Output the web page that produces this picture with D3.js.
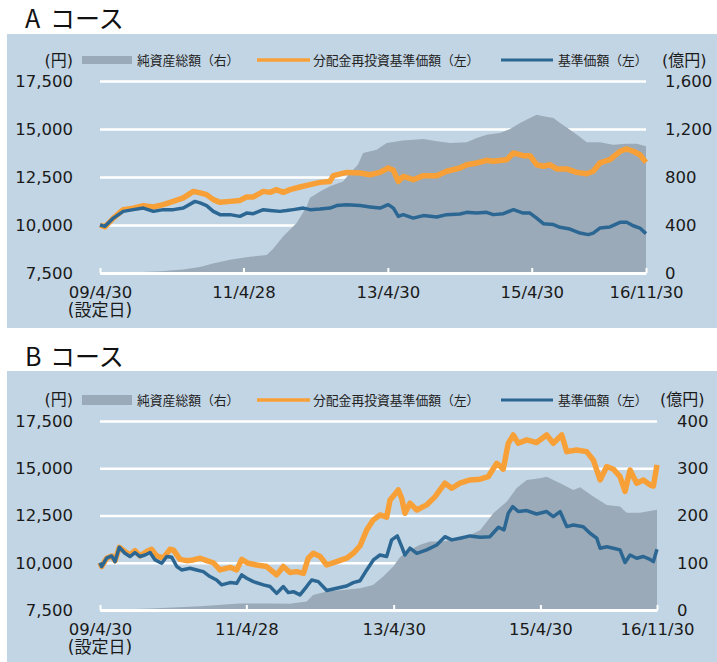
<!DOCTYPE html>
<html>
<head>
<meta charset="utf-8">
<script src="https://cdn.jsdelivr.net/npm/d3@7"></script>
<style>
body { margin: 0; background: #fff; }
</style>
</head>
<body>
<div id="chart"></div>
<script>
// Aコース
var aAssets = [
	["2009-04-30",0],["2009-09-29",5],["2010-03-01",15],["2010-06-25",30],["2010-09-19",50],
	["2010-11-24",80],["2011-02-19",111],["2011-05-31",135],["2011-08-24",150],["2011-09-25",200],
	["2011-11-15",305],["2012-01-23",417],["2012-03-14",555],["2012-03-31",627],["2012-05-21",680],
	["2012-07-10",722],["2012-09-14",763],["2012-10-20",833],["2012-11-29",902],["2012-12-25",1000],
	["2013-03-04",1027],["2013-04-24",1083],["2013-07-16",1105],["2013-10-27",1117],["2014-01-03",1097],
	["2014-03-11",1083],["2014-06-04",1089],["2014-07-25",1125],["2014-09-13",1153],["2014-11-20",1167],
	["2015-01-10",1200],["2015-03-02",1250],["2015-04-21",1292],["2015-05-25",1319],["2015-06-28",1306],
	["2015-08-18",1292],["2015-09-21",1250],["2015-11-10",1194],["2015-12-31",1133],["2016-02-03",1089],
	["2016-04-10",1089],["2016-06-17",1069],["2016-08-24",1078],["2016-10-14",1078],["2016-11-30",1056]
];
var aReinvest = [
	["2009-04-30",10000],["2009-05-25",9900],["2009-07-07",10360],["2009-08-26",10800],["2009-10-16",10880],
	["2009-12-06",11010],["2010-01-26",10940],["2010-03-17",11060],["2010-05-07",11230],["2010-06-27",11410],
	["2010-08-17",11750],["2010-09-20",11670],["2010-10-23",11580],["2010-11-26",11320],["2010-12-30",11180],
	["2011-02-19",11230],["2011-04-10",11280],["2011-05-14",11460],["2011-06-17",11460],["2011-08-07",11750],
	["2011-09-10",11700],["2011-10-14",11840],["2011-11-16",11700],["2011-12-20",11840],["2012-02-09",11980],
	["2012-03-31",12100],["2012-05-21",12220],["2012-07-10",12270],["2012-07-27",12570],["2012-10-03",12740],
	["2012-12-10",12710],["2013-01-29",12620],["2013-03-21",12740],["2013-05-02",12970],["2013-05-28",12850],
	["2013-06-22",12270],["2013-07-17",12530],["2013-09-06",12360],["2013-10-27",12570],["2014-01-03",12570],
	["2014-02-22",12800],["2014-05-01",12970],["2014-06-04",13140],["2014-07-25",13230],["2014-09-13",13370],
	["2014-10-17",13320],["2014-12-24",13400],["2015-01-27",13750],["2015-03-18",13610],["2015-04-21",13610],
	["2015-05-25",13140],["2015-06-28",13060],["2015-08-01",13140],["2015-09-04",12920],["2015-10-24",12920],
	["2015-12-14",12740],["2016-02-03",12670],["2016-03-07",12800],["2016-04-10",13230],["2016-05-31",13400],
	["2016-07-21",13840],["2016-08-24",13960],["2016-09-26",13840],["2016-10-30",13660],["2016-11-30",13260]
];
var aNav = [
	["2009-04-30",10000],["2009-05-25",9930],["2009-07-07",10360],["2009-08-26",10710],["2009-10-16",10800],
	["2009-12-06",10880],["2010-01-26",10710],["2010-03-17",10800],["2010-05-07",10800],["2010-06-27",10880],
	["2010-08-25",11230],["2010-09-20",11150],["2010-10-23",11010],["2010-11-26",10710],["2010-12-30",10540],
	["2011-02-19",10540],["2011-04-10",10450],["2011-05-14",10620],["2011-06-17",10590],["2011-08-07",10800],
	["2011-09-10",10760],["2011-10-30",10710],["2011-12-03",10750],["2012-01-06",10800],["2012-02-26",10880],
	["2012-03-31",10800],["2012-05-21",10830],["2012-07-10",10880],["2012-08-13",11010],["2012-10-03",11060],
	["2012-12-10",11010],["2013-01-29",10940],["2013-03-21",10880],["2013-05-02",11060],["2013-05-28",10880],
	["2013-06-22",10450],["2013-07-17",10540],["2013-09-06",10360],["2013-10-27",10490],["2014-01-03",10420],
	["2014-02-22",10540],["2014-05-01",10570],["2014-06-04",10660],["2014-07-25",10620],["2014-09-13",10660],
	["2014-10-17",10540],["2014-12-07",10590],["2015-01-27",10800],["2015-03-18",10620],["2015-04-21",10620],
	["2015-05-25",10360],["2015-06-28",10070],["2015-08-18",10020],["2015-09-21",9880],["2015-11-10",9790],
	["2015-12-31",9580],["2016-02-11",9500],["2016-03-07",9580],["2016-04-10",9840],["2016-05-31",9900],
	["2016-07-21",10140],["2016-08-24",10140],["2016-09-26",9960],["2016-10-30",9840],["2016-11-30",9550]
];

// Bコース
var bAssets = [
	["2009-04-30",0],["2010-01-04",3],["2010-09-10",8],["2011-03-27",14],["2011-09-07",14],
	["2011-11-30",13],["2012-02-22",18],["2012-03-25",32],["2012-06-01",39],["2012-08-06",42],
	["2012-11-14",46],["2013-01-17",53],["2013-03-09",71],["2013-04-28",92],["2013-06-01",112],
	["2013-07-20",127],["2013-09-08",138],["2013-10-28",145],["2013-12-31",145],["2014-04-28",155],
	["2014-07-04",169],["2014-09-08",205],["2014-11-13",229],["2015-01-02",258],["2015-02-21",275],
	["2015-04-28",279],["2015-05-31",282],["2015-08-06",268],["2015-10-11",254],["2015-11-13",260],
	["2016-01-18",240],["2016-03-25",222],["2016-05-30",219],["2016-07-02",206],["2016-09-07",206],
	["2016-11-30",212]
];
var bReinvest = [
	["2009-04-30",10000],["2009-05-08",9800],["2009-06-02",10240],["2009-06-27",10360],["2009-07-14",10110],
	["2009-08-04",10820],["2009-09-01",10590],["2009-09-26",10410],["2009-10-21",10640],["2009-11-15",10360],
	["2009-12-18",10590],["2010-01-12",10710],["2010-02-06",10360],["2010-03-11",10240],["2010-04-13",10710],
	["2010-04-30",10680],["2010-06-02",10180],["2010-07-05",10110],["2010-08-07",10150],["2010-09-10",10240],
	["2010-10-13",10110],["2010-11-15",10000],["2010-12-18",9620],["2011-02-06",9760],["2011-03-11",9620],
	["2011-04-05",10180],["2011-05-08",9970],["2011-06-19",9880],["2011-08-07",9800],["2011-09-26",9360],
	["2011-10-29",9800],["2011-12-01",9480],["2012-01-04",9530],["2012-02-06",9440],["2012-03-01",10240],
	["2012-03-26",10500],["2012-04-29",10330],["2012-06-01",9880],["2012-07-20",10060],["2012-09-08",10240],
	["2012-10-11",10500],["2012-11-14",10900],["2012-12-17",11740],["2013-01-19",12270],["2013-02-21",12530],
	["2013-03-26",12410],["2013-04-12",13320],["2013-05-23",13850],["2013-06-09",13410],["2013-06-25",12620],
	["2013-07-20",13150],["2013-08-23",12790],["2013-10-11",13060],["2013-11-22",13500],["2014-01-10",14210],
	["2014-02-13",13940],["2014-03-26",14210],["2014-05-15",14380],["2014-07-04",14420],["2014-08-14",14560],
	["2014-09-25",15260],["2014-10-27",14950],["2014-11-21",16320],["2014-12-16",16760],["2015-01-10",16320],
	["2015-02-21",16500],["2015-04-11",16360],["2015-05-31",16760],["2015-07-03",16320],["2015-08-14",16760],
	["2015-09-08",15880],["2015-10-27",15970],["2015-12-16",15880],["2016-01-18",15440],["2016-02-21",14380],
	["2016-03-25",15090],["2016-04-27",14950],["2016-05-30",14560],["2016-06-24",13770],["2016-07-19",14910],
	["2016-08-21",14210],["2016-09-23",14380],["2016-10-26",14120],["2016-11-12",14060],["2016-11-30",15180]
];
var bNav = [
	["2009-04-30",10000],["2009-05-08",9800],["2009-06-02",10240],["2009-06-27",10360],["2009-07-14",10060],
	["2009-08-04",10820],["2009-09-01",10500],["2009-09-26",10330],["2009-10-21",10540],["2009-11-15",10330],
	["2009-12-10",10410],["2010-01-04",10540],["2010-01-29",10150],["2010-03-03",9970],["2010-03-28",10330],
	["2010-04-22",10290],["2010-05-17",9800],["2010-06-10",9620],["2010-07-22",9710],["2010-08-24",9620],
	["2010-09-26",9530],["2010-10-29",9270],["2010-12-01",9090],["2010-12-26",8830],["2011-02-06",8950],
	["2011-03-11",8910],["2011-04-05",9360],["2011-04-30",9180],["2011-06-02",9000],["2011-07-22",8830],
	["2011-08-24",8740],["2011-09-26",8380],["2011-10-29",8740],["2011-11-23",8420],["2011-12-18",8470],
	["2012-01-20",8300],["2012-02-22",8740],["2012-03-18",9090],["2012-04-20",9000],["2012-06-01",8530],
	["2012-07-20",8650],["2012-09-08",8770],["2012-10-11",8950],["2012-11-14",9050],["2012-12-17",9620],
	["2013-01-19",10150],["2013-02-21",10410],["2013-03-26",10330],["2013-04-20",11210],["2013-05-18",11420],
	["2013-06-09",10850],["2013-06-25",10410],["2013-07-20",10770],["2013-08-23",10500],["2013-10-11",10680],
	["2013-11-30",10940],["2014-01-10",11380],["2014-02-13",11210],["2014-03-26",11300],["2014-05-15",11420],
	["2014-07-04",11350],["2014-08-22",11380],["2014-10-03",11880],["2014-10-31",11740],["2014-11-21",12620],
	["2014-12-13",12970],["2015-01-10",12710],["2015-02-21",12760],["2015-04-11",12580],["2015-05-31",12710],
	["2015-07-03",12440],["2015-08-06",12710],["2015-09-08",11910],["2015-10-11",12000],["2015-11-29",11910],
	["2016-01-02",11560],["2016-02-04",11300],["2016-02-21",10770],["2016-03-25",10850],["2016-04-27",10770],
	["2016-05-30",10680],["2016-06-24",10010],["2016-07-19",10410],["2016-08-21",10240],["2016-09-23",10330],
	["2016-10-26",10180],["2016-11-12",10060],["2016-11-30",10710]
];

var leftTicks = [7500, 10000, 12500, 15000, 17500];
var aRightTicks = [0, 400, 800, 1200, 1600];
var bRightTicks = [0, 100, 200, 300, 400];
var xTickDates = ["2009-04-30", "2011-04-28", "2013-04-30", "2015-04-30", "2016-11-30"];
var xTickLabels = ["09/4/30", "11/4/28", "13/4/30", "15/4/30", "16/11/30"];
var legendLabels = ["純資産総額（右）", "分配金再投資基準価額（左）", "基準価額（左）"];

var width = 717;
var height = 662;
var bgColor = "#c2d5e4";
var areaColor = "#9aaab8";
var orange = "#f8a038";
var blue = "#2c6793";
var numFont = "'DejaVu Sans', 'Noto Sans CJK JP', sans-serif";
var jpFont = "'Noto Sans CJK JP', sans-serif";

var parse = d3.timeParse("%Y-%m-%d");

var svg = d3.select("#chart")
	.append("svg")
	.attr("width", width)
	.attr("height", height);

function drawPanel(p) {
	var g = svg.append("g");

	// 背景
	g.append("rect")
		.attr("x", 7).attr("y", p.bgTop)
		.attr("width", width - 7).attr("height", p.bgBottom - p.bgTop)
		.attr("fill", bgColor);

	// タイトル
	var title = g.append("text")
		.attr("y", p.titleY)
		.attr("font-family", jpFont)
		.attr("font-size", "25px")
		.attr("fill", "#111");
	title.append("tspan").attr("x", 25).text(p.letter);
	title.append("tspan").attr("x", 50).text("コース");

	var left = 100;
	var xScale = d3.scaleTime()
		.domain([parse("2009-04-30"), parse("2016-11-30")])
		.range([left, p.plotRight]);
	var yScale = d3.scaleLinear()
		.domain([7500, 17500])
		.range([p.plotBottom, p.plotTop]);
	var yRight = d3.scaleLinear()
		.domain([0, p.rightMax])
		.range([p.plotBottom, p.plotTop]);

	// 左軸 + グリッド
	var axisL = d3.axisLeft(yScale)
		.tickValues(leftTicks)
		.tickSize(-(p.plotRight - left))
		.tickPadding(27)
		.tickFormat(d3.format(","));
	var gl = g.append("g")
		.attr("transform", "translate(" + left + ",0)")
		.call(axisL);
	gl.select(".domain").remove();
	gl.selectAll(".tick line").attr("stroke", "#fff").attr("stroke-width", 2.5);
	gl.selectAll(".tick text")
		.attr("fill", "#1a1a1a")
		.attr("font-family", numFont)
		.attr("font-size", "16.5px");

	// 右軸
	var axisR = d3.axisRight(yRight)
		.tickValues(p.rightTicks)
		.tickSize(0)
		.tickPadding(p.rightLabelX - p.plotRight)
		.tickFormat(d3.format(","));
	var gr = g.append("g")
		.attr("transform", "translate(" + p.plotRight + ",0)")
		.call(axisR);
	gr.select(".domain").remove();
	gr.selectAll(".tick text")
		.attr("fill", "#1a1a1a")
		.attr("font-family", numFont)
		.attr("font-size", "16.5px");

	// 純資産総額
	var area = d3.area()
		.x(function(d) { return xScale(parse(d[0])); })
		.y0(p.plotBottom)
		.y1(function(d) { return yRight(d[1]); });
	g.append("path")
		.datum(p.assets)
		.attr("d", area)
		.attr("fill", areaColor);

	var line = d3.line()
		.x(function(d) { return xScale(parse(d[0])); })
		.y(function(d) { return yScale(d[1]); });

	// 分配金再投資基準価額
	g.append("path")
		.datum(p.reinvest)
		.attr("d", line)
		.attr("fill", "none")
		.attr("stroke", orange)
		.attr("stroke-width", 5.5)
		.attr("stroke-linejoin", "round");

	// 基準価額
	g.append("path")
		.datum(p.nav)
		.attr("d", line)
		.attr("fill", "none")
		.attr("stroke", blue)
		.attr("stroke-width", 3.5)
		.attr("stroke-linejoin", "round");

	// x軸
	var axisX = d3.axisBottom(xScale)
		.tickValues(xTickDates.map(parse))
		.tickSize(-5)
		.tickSizeOuter(0)
		.tickPadding(13)
		.tickFormat(function(d, i) { return xTickLabels[i]; });
	var gx = g.append("g")
		.attr("transform", "translate(0," + p.plotBottom + ")")
		.call(axisX);
	gx.select(".domain").attr("stroke", "#fff").attr("stroke-width", 3);
	gx.selectAll(".tick line").attr("stroke", "#fff").attr("stroke-width", 2);
	gx.selectAll(".tick text")
		.attr("fill", "#1a1a1a")
		.attr("font-family", numFont)
		.attr("font-size", "16.5px");

	g.append("text")
		.attr("x", 100).attr("y", p.plotBottom + 43)
		.attr("text-anchor", "middle")
		.attr("font-family", numFont)
		.attr("font-size", "17px")
		.attr("fill", "#1a1a1a")
		.text("(設定日)");

	// 単位
	g.append("text")
		.attr("x", 73).attr("y", p.unitY)
		.attr("text-anchor", "end")
		.attr("font-family", numFont)
		.attr("font-size", "16px")
		.attr("fill", "#1a1a1a")
		.text("(円)");
	g.append("text")
		.attr("x", p.unitX).attr("y", p.unitY)
		.attr("font-family", numFont)
		.attr("font-size", "16px")
		.attr("fill", "#1a1a1a")
		.text("(億円)");

	// 凡例
	var ly = p.legendY;
	g.append("rect")
		.attr("x", 82).attr("y", ly - p.rectH / 2)
		.attr("width", 50).attr("height", p.rectH)
		.attr("fill", areaColor);
	g.append("line")
		.attr("x1", 257).attr("x2", 310).attr("y1", ly).attr("y2", ly)
		.attr("stroke", orange).attr("stroke-width", 3.5);
	g.append("line")
		.attr("x1", 501).attr("x2", 553).attr("y1", ly).attr("y2", ly)
		.attr("stroke", blue).attr("stroke-width", 3);
	var lx = [137, 313, 558];
	legendLabels.forEach(function(t, i) {
		g.append("text")
			.attr("x", lx[i]).attr("y", ly + 4.5)
			.attr("font-family", jpFont)
			.attr("font-size", "12.8px")
			.attr("fill", "#222")
			.text(t);
	});
}

drawPanel({
	letter: "A", bgTop: 34, bgBottom: 328, titleY: 28,
	plotTop: 81, plotBottom: 273, plotRight: 646,
	rightMax: 1600, rightTicks: aRightTicks, rightLabelX: 665,
	unitY: 66, unitX: 662, legendY: 60, rectH: 8,
	assets: aAssets, reinvest: aReinvest, nav: aNav
});

drawPanel({
	letter: "B", bgTop: 371, bgBottom: 662, titleY: 366,
	plotTop: 421, plotBottom: 610, plotRight: 657,
	rightMax: 400, rightTicks: bRightTicks, rightLabelX: 677,
	unitY: 405, unitX: 660, legendY: 400, rectH: 10,
	assets: bAssets, reinvest: bReinvest, nav: bNav
});
</script>
</body>
</html>
